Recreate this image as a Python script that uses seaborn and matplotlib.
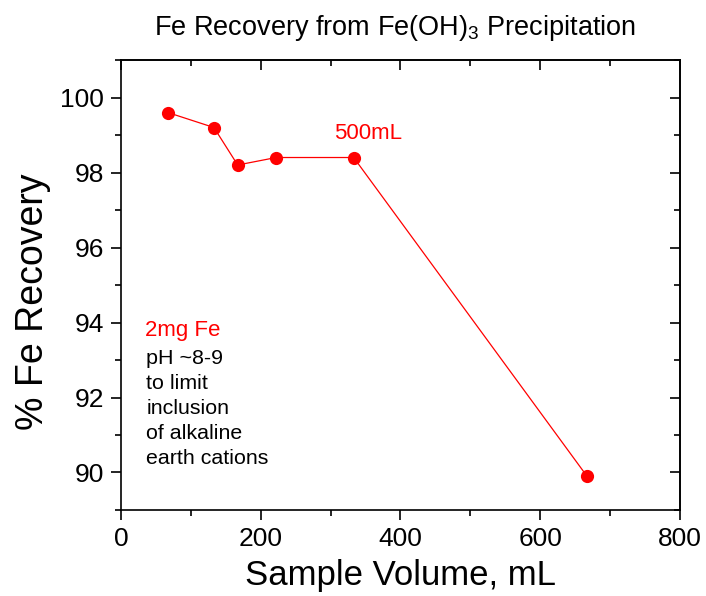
import matplotlib
matplotlib.use("Agg")
import matplotlib.pyplot as plt
from matplotlib.ticker import MultipleLocator
import seaborn as sns
import pandas as pd

# data
sample_volume = [67, 133, 167, 222, 333, 667]
fe_recovery = [99.6, 99.2, 98.2, 98.4, 98.4, 89.9]

notes = ["pH ~8-9", "to limit", "inclusion", "of alkaline", "earth cations"]

sns.set_style("ticks")
plt.rcParams["font.family"] = ["Liberation Sans", "DejaVu Sans"]
plt.rcParams["mathtext.fontset"] = "custom"
plt.rcParams["mathtext.rm"] = "Liberation Sans"
plt.rcParams["mathtext.it"] = "Liberation Sans"
for k in ["text.color", "axes.labelcolor", "xtick.color", "ytick.color", "axes.edgecolor"]:
    plt.rcParams[k] = "black"

df = pd.DataFrame({"Sample Volume": sample_volume, "Recovery": fe_recovery})

fig = plt.figure(figsize=(7.06, 5.96), dpi=100)
ax = fig.add_axes([0.1714, 0.1443, 0.7917, 0.755])

sns.lineplot(data=df, x="Sample Volume", y="Recovery", ax=ax, color="#ff0000",
             marker="o", markersize=9.5, markeredgewidth=0, linewidth=0.9)

ax.set_xlim(0, 800)
ax.set_ylim(89, 101)
ax.xaxis.set_major_locator(MultipleLocator(200))
ax.xaxis.set_minor_locator(MultipleLocator(100))
ax.yaxis.set_major_locator(MultipleLocator(2))
ax.yaxis.set_minor_locator(MultipleLocator(1))

for s in ax.spines.values():
    s.set_visible(True)
    s.set_linewidth(1.2)
    s.set_color("black")

ax.tick_params(which="major", direction="out", length=7, width=1.2, labelsize=19, pad=5)
ax.tick_params(which="minor", direction="out", length=4, width=1.2)

# mirrored ticks on top and right, pointing inward
top = ax.secondary_xaxis("top")
top.xaxis.set_major_locator(MultipleLocator(200))
top.xaxis.set_minor_locator(MultipleLocator(100))
top.tick_params(which="major", direction="in", length=7, width=1.2, labeltop=False)
top.tick_params(which="minor", direction="in", length=4, width=1.2)
top.spines["top"].set_linewidth(1.2)
right = ax.secondary_yaxis("right")
right.yaxis.set_major_locator(MultipleLocator(2))
right.yaxis.set_minor_locator(MultipleLocator(1))
right.tick_params(which="major", direction="in", length=7, width=1.2, labelright=False)
right.tick_params(which="minor", direction="in", length=4, width=1.2)
right.spines["right"].set_linewidth(1.2)

ax.set_xlabel("Sample Volume, mL", fontsize=25, labelpad=6)
ax.set_ylabel("% Fe Recovery", fontsize=27)
ax.yaxis.set_label_coords(-0.125, 0.462)
ax.set_title("Fe Recovery from Fe(OH)$_3$ Precipitation", fontsize=19.5, pad=18, x=0.49)

ax.text(353, 99.05, "500mL", color="#ff0000", fontsize=16, ha="center", va="center")
ax.text(34, 93.8, "2mg Fe", color="#ff0000", fontsize=16, ha="left", va="center")
ax.text(36, 91.71, "\n".join(notes), color="black", fontsize=15.4, ha="left", va="center",
        linespacing=1.4)

fig.savefig("out.png", dpi=100)
